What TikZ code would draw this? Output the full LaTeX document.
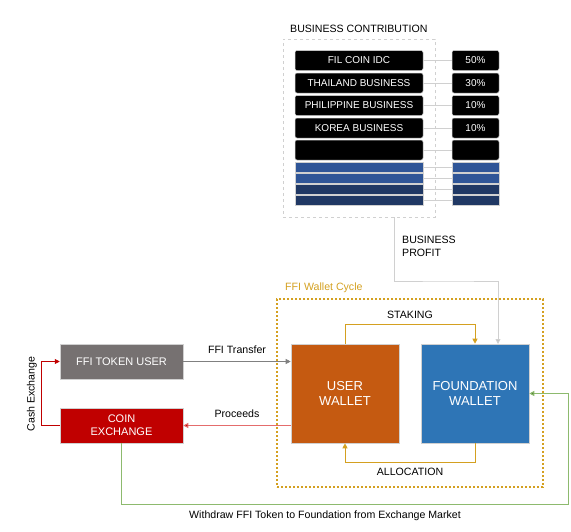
\documentclass[tikz,border=0pt]{standalone}
\usepackage{fontspec}
\setmainfont{Liberation Sans}
\usetikzlibrary{arrows.meta,calc}
\definecolor{cyclegold}{HTML}{D4A020}
\definecolor{uwcol}{HTML}{C55A11}
\definecolor{fwcol}{HTML}{2E75B6}
\definecolor{ftucol}{HTML}{767171}
\definecolor{cecol}{HTML}{C00000}
\definecolor{blueA}{HTML}{2F5597}
\definecolor{blueB}{HTML}{203864}
\definecolor{edge}{HTML}{D0D0D0}
\definecolor{proc}{HTML}{E46C6C}
\definecolor{grn}{HTML}{8DBA6E}
\definecolor{grnd}{HTML}{548235}
\begin{document}
\begin{tikzpicture}[x=1pt,y=-1pt,
  tip/.style={-{Triangle[length=5pt,width=5pt]}},
  rowbox/.style={draw=edge,line width=0.5pt,rounded corners=2pt,fill=black,text=white,minimum width=128pt,minimum height=20pt,inner sep=0pt,font=\fontsize{10}{12}\selectfont},
  pctbox/.style={rowbox,minimum width=47pt},
  thinrow/.style={draw=edge,line width=0.5pt,minimum width=128pt,minimum height=10pt,inner sep=0pt},
  thinpct/.style={thinrow,minimum width=47pt},
  rowlink/.style={draw=edge,line width=0.6pt},
  lbl/.style={font=\fontsize{10.6}{12.5}\selectfont,inner sep=0pt},
  wallet/.style={draw=edge,line width=0.6pt,text=white,minimum width=108pt,minimum height=99pt,inner sep=0pt,align=center,font=\fontsize{13}{15.5}\selectfont},
  sidebox/.style={draw=edge,line width=0.5pt,text=white,minimum width=123pt,minimum height=35pt,inner sep=0pt,align=center,font=\fontsize{11}{13}\selectfont}
]
\useasboundingbox (0,0) rectangle (571,531);

% Business contribution
\node[lbl,anchor=west] (bctitle) at (290,29) {BUSINESS CONTRIBUTION};
\node[draw=edge,dashed,line width=0.6pt,minimum width=152pt,minimum height=178pt,inner sep=0pt] (contrib) at (359,128) {};

\node[rowbox] (r1) at (359,60.5) {FIL COIN IDC};
\node[rowbox] (r2) at (359,83) {THAILAND BUSINESS};
\node[rowbox] (r3) at (359,105.5) {PHILIPPINE BUSINESS};
\node[rowbox] (r4) at (359,128) {KOREA BUSINESS};
\node[rowbox] (r5) at (359,150) {};
\node[thinrow,fill=blueA] (r6) at (359,167) {};
\node[thinrow,fill=blueA] (r7) at (359,178) {};
\node[thinrow,fill=blueB] (r8) at (359,189.5) {};
\node[thinrow,fill=blueB] (r9) at (359,200.5) {};

\node[pctbox] (p1) at (475.5,60.5) {50\%};
\node[pctbox] (p2) at (475.5,83) {30\%};
\node[pctbox] (p3) at (475.5,105.5) {10\%};
\node[pctbox] (p4) at (475.5,128) {10\%};
\node[pctbox] (p5) at (475.5,150) {};
\node[thinpct,fill=blueA] (p6) at (475.5,167) {};
\node[thinpct,fill=blueA] (p7) at (475.5,178) {};
\node[thinpct,fill=blueB] (p8) at (475.5,189.5) {};
\node[thinpct,fill=blueB] (p9) at (475.5,200.5) {};

\foreach \i in {1,...,9} {\draw[rowlink] (r\i.east) -- (p\i.west);}

% Wallet cycle
\node[lbl,anchor=west,text=cyclegold] (wctitle) at (285,288) {FFI Wallet Cycle};
\node[draw=cyclegold,dash pattern=on 2.2pt off 1.8pt,line width=1.3pt,minimum width=266pt,minimum height=188pt,inner sep=0pt] (cycle) at (410,393) {};

\node[wallet,fill=uwcol] (uw) at (345,393.5) {USER\\WALLET};
\node[wallet,fill=fwcol] (fw) at (475,393.5) {FOUNDATION\\WALLET};

\draw[cyclegold,line width=0.9pt,tip] (uw.north) -- ++(0,-19) -| (fw.north);
\draw[cyclegold,line width=0.9pt,tip] (fw.south) -- ++(0,19) -| (uw.south);
\node[lbl] (staking) at (410,315) {STAKING};
\node[lbl] (alloc) at (410,472) {ALLOCATION};

% Business profit
\coordinate (bpstart) at (394,217);
\coordinate (bpend) at (498,344);
\draw[edge,line width=0.8pt,-{Triangle[length=5pt,width=5pt,fill=edge!85!gray]}] (bpstart) |- (450,281) -| (bpend);
\node[lbl,anchor=north west,align=left,font=\fontsize{10.6}{13}\selectfont] (bptext) at (402,236) {BUSINESS\\PROFIT};

% Left side
\node[sidebox,fill=ftucol] (ftu) at (121.5,361.5) {FFI TOKEN USER};
\node[sidebox,fill=cecol] (ce) at (121.5,425.5) {COIN\\EXCHANGE};

\draw[gray,line width=0.8pt,tip] (ftu.east) -- (uw.west |- ftu.east);
\node[lbl] (tr) at (237,350) {FFI Transfer};
\draw[proc,line width=0.9pt,-{Triangle[length=5pt,width=5pt,fill=cecol]}] (uw.west |- ce.east) -- (ce.east);
\node[lbl] (pr) at (237,414) {Proceeds};
\draw[cecol,line width=0.8pt,tip] (ce.west) -- ++(-18,0) |- (ftu.west);
\node[lbl,rotate=90] (cash) at (32,394) {Cash Exchange};

\coordinate (gc) at (568,504);
\draw[grn,line width=0.9pt,-{Triangle[length=5pt,width=5pt,fill=grnd]}] (ce.south) |- (gc) |- (fw.east);
\node[lbl] (wd) at (325,516) {Withdraw FFI Token to Foundation from Exchange Market};
\end{tikzpicture}
\end{document}
